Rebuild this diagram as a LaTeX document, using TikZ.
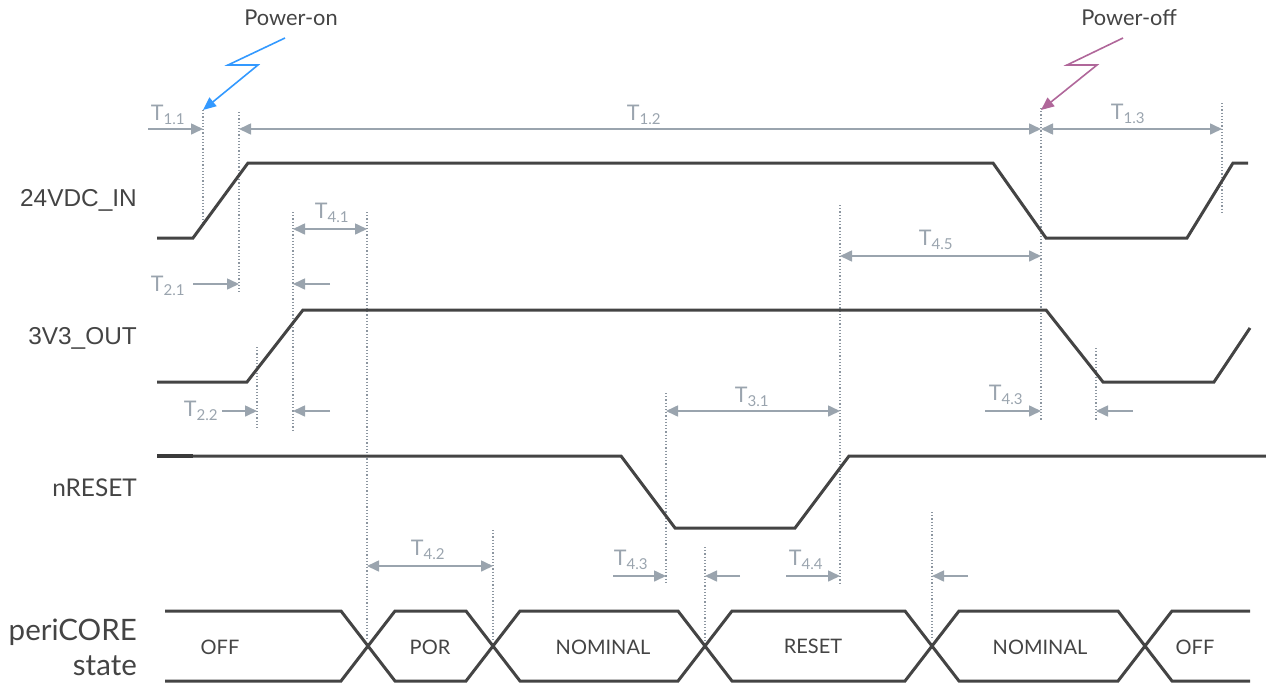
\documentclass[tikz,border=0pt]{standalone}
\usepackage{fontspec}
\setmainfont{Lato}
\newfontfamily\arialfont{Liberation Sans}
\usetikzlibrary{arrows.meta}
\definecolor{sig}{HTML}{444444}
\definecolor{tgray}{HTML}{9AA4AE}
\definecolor{dgray}{HTML}{8C96A0}
\definecolor{onblue}{HTML}{3399FF}
\definecolor{offpink}{HTML}{B0679A}
\begin{document}
\begin{tikzpicture}[x=1pt,y=-1pt,
  sigline/.style={draw=sig,line width=3pt,line join=miter},
  guide/.style={draw=dgray,line width=1.1pt,dash pattern=on 1.1pt off 2.1pt},
  dim/.style={draw=tgray,line width=1.6pt,-{Triangle[length=12pt,width=11pt]}},
  ddim/.style={draw=tgray,line width=1.6pt,{Triangle[length=12pt,width=11pt]}-{Triangle[length=12pt,width=11pt]}},
  tlab/.style={text=tgray,font=\fontsize{21.5}{24}\selectfont,inner sep=0pt},
  signame/.style={text=sig,font=\fontsize{24.4}{28}\selectfont,anchor=east,inner sep=0pt},
  arialname/.style={text=sig,font=\arialfont\fontsize{24.4}{28}\selectfont,anchor=east,inner sep=0pt},
  bigname/.style={text=sig,font=\fontsize{29.5}{32}\selectfont,anchor=east,inner sep=0pt},
  statelab/.style={text=sig,font=\fontsize{20}{22}\selectfont,inner sep=0pt},
  evlab/.style={text=sig,font=\fontsize{21.8}{24}\selectfont,inner sep=0pt},
  bolt/.style={line width=1.6pt,-{Triangle[length=13pt,width=11pt]}},
]
\useasboundingbox (0,0) rectangle (1266,683);

% ---------- dotted guide lines ----------
\draw[guide] (203,110) -- (203,228);
\draw[guide] (239,112) -- (239,292);
\draw[guide] (293,212) -- (293,430);
\draw[guide] (367,212) -- (367,640);
\draw[guide] (257,347) -- (257,430);
\draw[guide] (493,530) -- (493,640);
\draw[guide] (666,393) -- (666,584);
\draw[guide] (705,547) -- (705,640);
\draw[guide] (840,205) -- (840,584);
\draw[guide] (932,512) -- (932,640);
\draw[guide] (1041,108) -- (1041,420);
\draw[guide] (1096,348) -- (1096,420);
\draw[guide] (1222,103) -- (1222,212);

% ---------- signals ----------
\draw[sigline] (157,238) -- (193,238) -- (248,163) -- (993,163) -- (1046,238) -- (1187,238) -- (1233,163) -- (1248,163);
\draw[sigline] (157,382) -- (247,382) -- (303,310) -- (1046,310) -- (1103,382) -- (1214,382) -- (1250,328);
\draw[sigline] (157,456) -- (621,456) -- (675,528) -- (795,528) -- (849,456) -- (1266,456);
\draw[sigline,draw=sig!85!black,line width=3.4pt] (157,456) -- (193,456);

% ---------- state bus ----------
\def\bt{611}\def\bm{646}\def\bb{681}
\draw[sigline] (165,\bt) -- (341,\bt) -- (368,\bm) -- (341,\bb) -- (165,\bb);
\draw[sigline] (368,\bm) -- (395,\bt) -- (466,\bt) -- (493,\bm) -- (466,\bb) -- (395,\bb) -- cycle;
\draw[sigline] (493,\bm) -- (520,\bt) -- (678,\bt) -- (705,\bm) -- (678,\bb) -- (520,\bb) -- cycle;
\draw[sigline] (705,\bm) -- (732,\bt) -- (905,\bt) -- (932,\bm) -- (905,\bb) -- (732,\bb) -- cycle;
\draw[sigline] (932,\bm) -- (959,\bt) -- (1118,\bt) -- (1145,\bm) -- (1118,\bb) -- (959,\bb) -- cycle;
\draw[sigline] (1250,\bt) -- (1172,\bt) -- (1145,\bm) -- (1172,\bb) -- (1250,\bb);

\node[statelab] (sOff1) at (220,647) {OFF};
\node[statelab] (sPor) at (430,647) {POR};
\node[statelab] (sNom1) at (603,647) {NOMINAL};
\node[statelab] (sRes) at (813,646) {RESET};
\node[statelab] (sNom2) at (1040,647) {NOMINAL};
\node[statelab] (sOff2) at (1195,647) {OFF};

% ---------- signal names ----------
\node[arialname] (n24) at (137,200) {24VDC\_IN};
\node[arialname] (n3v3) at (137,338) {3V3\_OUT};
\node[signame] (nres) at (137,488) {nRESET};
\node[bigname] (npc) at (137,632) {periCORE};
\node[bigname] (nst) at (137,666) {state};

% ---------- dimension coordinates ----------
\coordinate (a11s) at (148,129); \coordinate (a11e) at (203,129);
\coordinate (a12s) at (239,129); \coordinate (a12e) at (1041,129);
\coordinate (a13s) at (1041,129); \coordinate (a13e) at (1222,129);
\coordinate (a21s) at (193,284); \coordinate (a21e) at (239,284);
\coordinate (a21bs) at (330,284); \coordinate (a21be) at (293,284);
\coordinate (a41s) at (293,229); \coordinate (a41e) at (367,229);
\coordinate (a22s) at (222,411); \coordinate (a22e) at (257,411);
\coordinate (a22bs) at (330,411); \coordinate (a22be) at (293,411);
\coordinate (a45s) at (840,256); \coordinate (a45e) at (1041,256);
\coordinate (a31s) at (666,411); \coordinate (a31e) at (840,411);
\coordinate (a43s) at (985,411); \coordinate (a43e) at (1041,411);
\coordinate (a43bs) at (1133,411); \coordinate (a43be) at (1096,411);
\coordinate (a42s) at (367,566); \coordinate (a42e) at (493,566);
\coordinate (a43ms) at (613,576); \coordinate (a43me) at (666,576);
\coordinate (a43mbs) at (740,576); \coordinate (a43mbe) at (705,576);
\coordinate (a44s) at (786,576); \coordinate (a44e) at (840,576);
\coordinate (a44bs) at (968,576); \coordinate (a44be) at (932,576);

\draw[dim] (a11s) -- (a11e);
\draw[ddim] (a12s) -- (a12e);
\draw[ddim] (a13s) -- (a13e);
\draw[dim] (a21s) -- (a21e);
\draw[dim] (a21bs) -- (a21be);
\draw[ddim] (a41s) -- (a41e);
\draw[dim] (a22s) -- (a22e);
\draw[dim] (a22bs) -- (a22be);
\draw[ddim] (a45s) -- (a45e);
\draw[ddim] (a31s) -- (a31e);
\draw[dim] (a43s) -- (a43e);
\draw[dim] (a43bs) -- (a43be);
\draw[ddim] (a42s) -- (a42e);
\draw[dim] (a43ms) -- (a43me);
\draw[dim] (a43mbs) -- (a43mbe);
\draw[dim] (a44s) -- (a44e);
\draw[dim] (a44bs) -- (a44be);

% ---------- timing labels ----------
\node[tlab] (l11) at (168,115) {T\textsubscript{1.1}};
\node[tlab] (l12) at (644,115) {T\textsubscript{1.2}};
\node[tlab] (l13) at (1128,114) {T\textsubscript{1.3}};
\node[tlab] (l41) at (332,213) {T\textsubscript{4.1}};
\node[tlab] (l45) at (936,240) {T\textsubscript{4.5}};
\node[tlab] (l21) at (168,286) {T\textsubscript{2.1}};
\node[tlab] (l22) at (201,411) {T\textsubscript{2.2}};
\node[tlab] (l31) at (752,397) {T\textsubscript{3.1}};
\node[tlab] (l43r) at (1006,395) {T\textsubscript{4.3}};
\node[tlab] (l42) at (428,550) {T\textsubscript{4.2}};
\node[tlab] (l43m) at (631,560) {T\textsubscript{4.3}};
\node[tlab] (l44) at (806,560) {T\textsubscript{4.4}};

% ---------- power events ----------
\node[evlab] (pon) at (291,18) {Power-on};
\node[evlab] (poff) at (1129,18) {Power-off};
\coordinate (onA) at (285,38); \coordinate (onB) at (228,65); \coordinate (onC) at (258,65); \coordinate (onT) at (203,110);
\coordinate (offA) at (1123,38); \coordinate (offB) at (1067,65); \coordinate (offC) at (1097,65); \coordinate (offT) at (1041,110);
\draw[bolt,draw=onblue] (onA) -- (onB) -- (onC) -- (onT);
\draw[bolt,draw=offpink] (offA) -- (offB) -- (offC) -- (offT);
\end{tikzpicture}
\end{document}
